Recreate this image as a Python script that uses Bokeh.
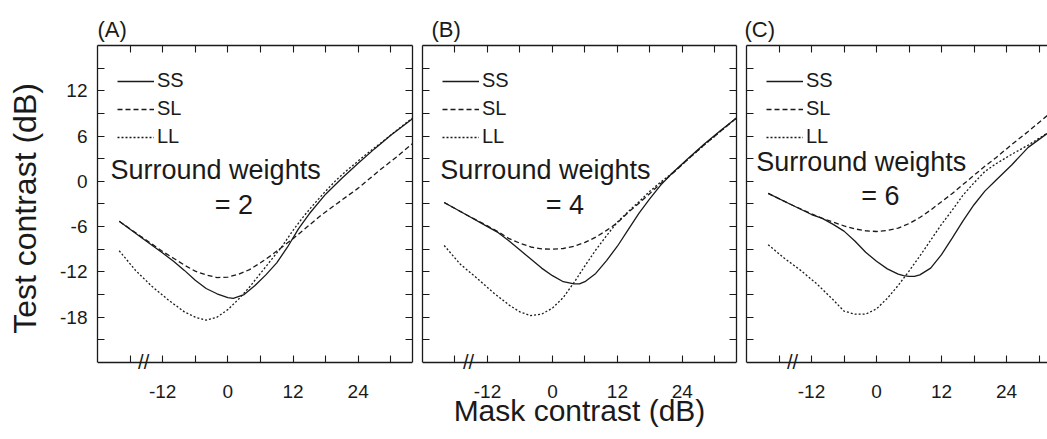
from bokeh.plotting import figure
from bokeh.layouts import row
from bokeh.models import (LinearAxis, FixedTicker, Range1d, Legend, LegendItem,
                          Label, CustomJSTickFormatter)
from bokeh.core.properties import value
from bokeh.embed import file_html
from bokeh.resources import INLINE

FONT = "Liberation Sans"
INK = "#1a1a1a"

# ---------------- axis ticks / labels ----------------
x_major = [-12, 0, 12, 24]
x_labels = ["-12", "0", "12", "24"]
x_minor = [-18, -6, 6, 18, 30]
y_major = [-18, -12, -6, 0, 6, 12]
y_labels = ["-18", "-12", "-6", "0", "6", "12"]
y_minor = [-21, -15, -9, -3, 3, 9, 15]

series_names = ["SS", "SL", "LL"]
panel_letters = ["(A)", "(B)", "(C)"]
surround_weights = ["2", "4", "6"]

# ---------------- Panel A (surround weights = 2) ----------------
a_ss_x = [-20, -16, -12, -10, -8, -6, -4, -2, 0, 1, 3, 5, 7, 9, 11, 13, 15, 18, 21, 24, 27, 30, 34]
a_ss_y = [-5.3, -7.4, -9.5, -10.6, -11.8, -13.1, -14.2, -14.9, -15.4, -15.5, -15.0, -13.8, -12.4,
          -10.8, -8.7, -6.3, -4.3, -1.7, 0.4, 2.4, 4.3, 6.1, 8.3]
a_sl_x = [-20, -16, -12, -10, -8, -6, -4, -2, 0, 2, 4, 6, 8, 10, 12, 14, 17, 20, 24, 28, 31, 34]
a_sl_y = [-5.3, -7.3, -9.3, -10.2, -11.1, -11.9, -12.4, -12.75, -12.7, -12.3, -11.7, -10.8, -9.8,
          -8.7, -7.6, -6.4, -4.6, -3.0, -0.9, 1.5, 3.2, 5.0]
a_ll_x = [-20, -17, -14, -11, -8, -6, -4, -2, 0, 2, 4, 6, 8, 10, 12, 14, 16, 18, 20, 22, 25, 28, 31, 34]
a_ll_y = [-9.2, -11.8, -13.9, -15.7, -17.3, -18.0, -18.4, -18.0, -17.0, -15.6, -14.0, -12.2, -10.4,
          -8.6, -6.5, -4.6, -2.9, -1.3, 0.2, 1.5, 3.3, 5.0, 6.7, 8.4]

# ---------------- Panel B (surround weights = 4) ----------------
b_ss_x = [-20, -16, -12, -10, -8, -6, -4, -2, 0, 2, 4, 5, 6, 8, 10, 12, 14, 16, 18, 20, 22, 25, 28, 31, 34]
b_ss_y = [-2.8, -4.4, -6.0, -6.8, -7.9, -9.1, -10.3, -11.5, -12.5, -13.3, -13.6, -13.6, -13.3, -12.2,
          -10.5, -8.6, -6.4, -4.2, -2.3, -0.5, 1.0, 3.0, 4.9, 6.7, 8.4]
b_sl_x = [-20, -16, -12, -10, -8, -6, -4, -2, 0, 2, 4, 6, 8, 10, 12, 14, 16, 18, 20, 22, 25, 28, 31, 34]
b_sl_y = [-2.8, -4.4, -5.9, -6.7, -7.6, -8.2, -8.7, -8.95, -9.0, -8.9, -8.6, -8.1, -7.4, -6.5, -5.5,
          -4.1, -2.9, -1.6, -0.3, 0.9, 2.9, 4.8, 6.6, 8.4]
b_ll_x = [-20, -17, -14, -11, -8, -6, -4, -2, 0, 2, 4, 6, 8, 10, 12, 14, 16, 18, 20, 22, 25, 28, 31, 34]
b_ll_y = [-8.5, -11.0, -12.8, -14.7, -16.4, -17.3, -17.8, -17.6, -16.8, -15.4, -13.4, -11.2, -9.1,
          -7.2, -5.4, -4.0, -2.7, -1.3, -0.1, 1.0, 2.9, 4.8, 6.6, 8.4]

# ---------------- Panel C (surround weights = 6) ----------------
c_ss_x = [-20, -16, -12, -10, -8, -6, -4, -2, 0, 2, 4, 5, 6, 7, 8, 10, 12, 14, 16, 18, 20, 22, 25, 28, 32]
c_ss_y = [-1.6, -3.0, -4.4, -4.9, -5.7, -6.6, -7.9, -9.4, -10.6, -11.6, -12.3, -12.5, -12.6, -12.6,
          -12.4, -11.5, -9.7, -7.5, -5.2, -3.1, -1.3, 0.1, 2.2, 4.5, 6.6]
c_sl_x = [-20, -16, -12, -10, -8, -6, -4, -2, 0, 2, 4, 6, 8, 10, 12, 14, 16, 18, 20, 22, 25, 28, 32]
c_sl_y = [-1.6, -3.0, -4.3, -4.9, -5.4, -5.9, -6.3, -6.55, -6.65, -6.5, -6.2, -5.6, -4.8, -3.8, -2.7,
          -1.6, -0.4, 0.8, 2.0, 3.1, 4.9, 6.6, 9.0]
c_ll_x = [-20, -17, -14, -11, -8, -6, -4, -2, 0, 2, 4, 6, 8, 10, 12, 14, 16, 18, 20, 22, 25, 28, 32]
c_ll_y = [-8.4, -10.2, -11.8, -13.6, -15.7, -17.2, -17.6, -17.6, -16.9, -15.5, -13.8, -11.9, -9.9,
          -7.8, -5.7, -3.8, -1.8, -0.2, 1.3, 2.3, 3.6, 4.8, 6.6]

panels_data = [
    [(a_ss_x, a_ss_y), (a_sl_x, a_sl_y), (a_ll_x, a_ll_y)],
    [(b_ss_x, b_ss_y), (b_sl_x, b_sl_y), (b_ll_x, b_ll_y)],
    [(c_ss_x, c_ss_y), (c_sl_x, c_sl_y), (c_ll_x, c_ll_y)],
]

line_dashes = ["solid", "5 3", "2 2"]

Y_LO, Y_HI = -24, 18          # visible axis extent
Y_PAD = -25.2                 # frame extends a little below the x axis line


def style_axis(ax, major, minor, labels=None, size="19px"):
    ax.ticker = FixedTicker(ticks=major, minor_ticks=minor)
    ax.axis_line_color = INK
    ax.axis_line_width = 1.3
    ax.major_tick_in = 7
    ax.major_tick_out = 0
    ax.minor_tick_in = 7
    ax.minor_tick_out = 0
    ax.major_tick_line_color = INK
    ax.minor_tick_line_color = INK
    ax.major_tick_line_width = 1.1
    ax.minor_tick_line_width = 1.1
    ax.major_label_text_font = FONT
    ax.major_label_text_color = INK
    if labels is not None:
        ax.major_label_overrides = dict(zip(major, labels))
        ax.major_label_text_font_size = size
    else:
        ax.formatter = CustomJSTickFormatter(code="return ''")
        ax.major_label_standoff = 0
        ax.major_label_text_font_size = "1px"


frame_widths = [315, 314, 301]
x_ends = [34, 34, -24 + 301 / 5.417]
left_borders = [97, 5, 5]
right_borders = [5, 5, 0]
letter_dx = [0, 9, -2]
text_pos = [(-21.6, 1.5, 1.1, -3.1), (-20.7, 1.5, 2.3, -3.1), (-22.2, 2.5, 0.7, -1.95)]
break_x = -15.5
FH = 326

figs = []
for i in range(3):
    p = figure(frame_width=frame_widths[i], frame_height=FH,
               x_range=Range1d(-24, x_ends[i]), y_range=Range1d(Y_PAD, Y_HI),
               output_backend="svg", toolbar_location=None,
               min_border_left=left_borders[i], min_border_right=right_borders[i],
               min_border_top=45, min_border_bottom=67,
               outline_line_color=None,
               background_fill_color="white", border_fill_color="white")
    p.xgrid.visible = False
    p.ygrid.visible = False

    # panel letter as the figure title
    p.title.text = panel_letters[i]
    p.title.align = "left"
    p.title.offset = letter_dx[i]
    p.title.text_font = FONT
    p.title.text_font_size = "22px"
    p.title.text_font_style = "normal"
    p.title.text_color = INK
    p.title.standoff = 7

    # bottom axis (labels only) at the frame edge
    xb = p.xaxis[0]
    style_axis(xb, x_major, x_minor, x_labels)
    xb.axis_line_color = None
    xb.major_tick_line_color = None
    xb.minor_tick_line_color = None
    xb.major_label_standoff = 13
    if i == 1:
        xb.axis_label = "Mask contrast (dB)"
        xb.axis_label_text_font = FONT
        xb.axis_label_text_font_size = "30px"
        xb.axis_label_text_font_style = "normal"
        xb.axis_label_text_color = INK
        xb.axis_label_standoff = -7

    # bottom axis line and ticks drawn at y = -24
    xline = LinearAxis(fixed_location=Y_LO)
    style_axis(xline, x_major, x_minor, None)
    p.add_layout(xline, "below")

    # left axis
    yl = p.yaxis[0]
    yl.bounds = (Y_LO, Y_HI)
    if i == 0:
        style_axis(yl, y_major, y_minor, y_labels)
        yl.major_label_standoff = 10
        yl.axis_label = "Test contrast (dB)"
        yl.axis_label_text_font = FONT
        yl.axis_label_text_font_size = "32px"
        yl.axis_label_text_font_style = "normal"
        yl.axis_label_text_color = INK
        yl.axis_label_standoff = 14
    else:
        style_axis(yl, y_major, y_minor, None)

    # top axis
    xt = LinearAxis()
    style_axis(xt, x_major, x_minor, None)
    p.add_layout(xt, "above")

    # right axis
    if i < 2:
        yr = LinearAxis(bounds=(Y_LO, Y_HI))
        style_axis(yr, y_major, y_minor, None)
        p.add_layout(yr, "right")

    # curves
    items = []
    for (xs, ys), name, dash in zip(panels_data[i], series_names, line_dashes):
        r = p.line(xs, ys, line_color=INK, line_width=1.3, line_dash=dash)
        items.append(LegendItem(label=name, renderers=[r]))

    leg = Legend(items=items, location=(20, 223), padding=0, margin=0, spacing=5,
                 glyph_width=37, glyph_height=20, label_height=20, label_standoff=3,
                 label_text_font=FONT, label_text_font_size="20px", label_text_color=INK,
                 border_line_color=None, background_fill_alpha=0)
    p.add_layout(leg)

    # annotation text
    tx, ty, ex, ey = text_pos[i]
    p.text(x=[tx], y=[ty], text=["Surround weights"], text_font=value(FONT),
           text_font_size="27px", text_align="left", text_baseline="alphabetic",
           text_color=INK)
    p.text(x=[ex], y=[ey], text=["= " + surround_weights[i]], text_font=value(FONT),
           text_font_size="27px", text_align="center", text_baseline="alphabetic",
           text_color=INK)

    # axis break mark
    p.add_layout(Label(x=break_x, y=Y_LO, text="//", text_align="center",
                       text_baseline="middle", text_font=FONT, text_font_size="20px",
                       text_color=INK))
    figs.append(p)

layout = row(*figs, spacing=0)
open("out.html", "w").write(file_html(layout, INLINE))
